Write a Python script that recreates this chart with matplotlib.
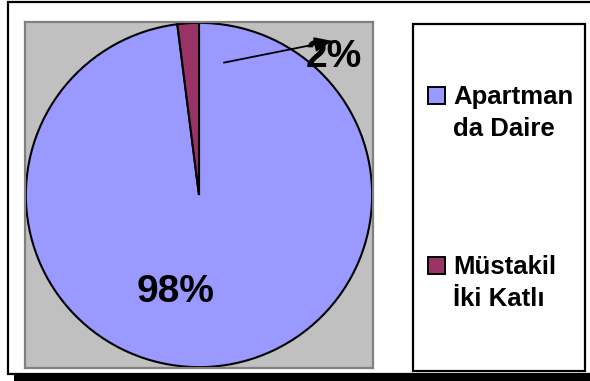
import matplotlib

matplotlib.use("Agg")
import matplotlib.pyplot as plt
from matplotlib.patches import Rectangle

plt.rcParams["font.family"] = ["Liberation Sans", "DejaVu Sans"]

# housing type shares (percent)
categories = ["Apartman\nda Daire", "Müstakil\nİki Katlı"]
shares = [98, 2]
colors = ["#9999FF", "#993366"]

W, H = 590, 381
fig = plt.figure(figsize=(W / 100, H / 100), dpi=100)


def px_box(x0, y0, x1, y1):
    """Pixel box (top-left origin) -> figure fraction [left, bottom, w, h]."""
    return [x0 / W, (H - y1) / H, (x1 - x0) / W, (y1 - y0) / H]


def fig_rect(x0, y0, x1, y1, **kw):
    l, b, w, h = px_box(x0, y0, x1, y1)
    fig.patches.append(Rectangle((l, b), w, h, transform=fig.transFigure, **kw))


# outer chart frame with its drop shadow along the bottom
fig_rect(8, 2, 600, 374, facecolor="white", edgecolor="black", lw=1.6, zorder=-3)
fig_rect(14, 375, 600, 382, facecolor="black", edgecolor="none", zorder=-3)

# plot area
ax = fig.add_axes(px_box(25, 22, 373, 368))
wedges, _ = ax.pie(shares, colors=colors, startangle=90, counterclock=False,
                   radius=1.0,
                   wedgeprops=dict(edgecolor="black", linewidth=1.5))
ax.set_aspect("auto")
ax.set_xlim(-1.005, 1.005)
ax.set_ylim(-1.005, 1.005)
ax.set_frame_on(True)
ax.set_facecolor("#C0C0C0")
for sp in ax.spines.values():
    sp.set_edgecolor("#808080")
    sp.set_linewidth(1.6)
ax.set_xticks([])
ax.set_yticks([])

# data labels; the small slice gets a leader arrow
ax.text(-0.135, -0.564, f"{shares[0]}%", ha="center", va="center",
        fontsize=28, fontweight="bold")
ax.text(0.776, 0.80, f"{shares[1]}%", ha="center", va="center",
        fontsize=28, fontweight="bold")
ax.annotate("", xy=(0.77, 0.895), xytext=(0.144, 0.769), zorder=5,
            arrowprops=dict(arrowstyle="-|>,head_length=0.6,head_width=0.25",
                            mutation_scale=18, color="black", lw=1.3,
                            shrinkA=0, shrinkB=0))

# legend box and entries
fig_rect(413, 24, 585, 371, facecolor="white", edgecolor="black", lw=1.6, zorder=-1)
first_baselines = [104, 274]
line_step = 32
for wedge, label, y0 in zip(wedges, categories, first_baselines):
    fig_rect(428, y0 - 17, 445, y0, facecolor=wedge.get_facecolor(),
             edgecolor="black", lw=1.4, zorder=2)
    for i, line in enumerate(label.split("\n")):
        fig.text(453 / W, (H - y0 - i * line_step) / H, line,
                 ha="left", va="baseline", fontsize=18.5, fontweight="bold")

fig.savefig("out.png", dpi=100)
